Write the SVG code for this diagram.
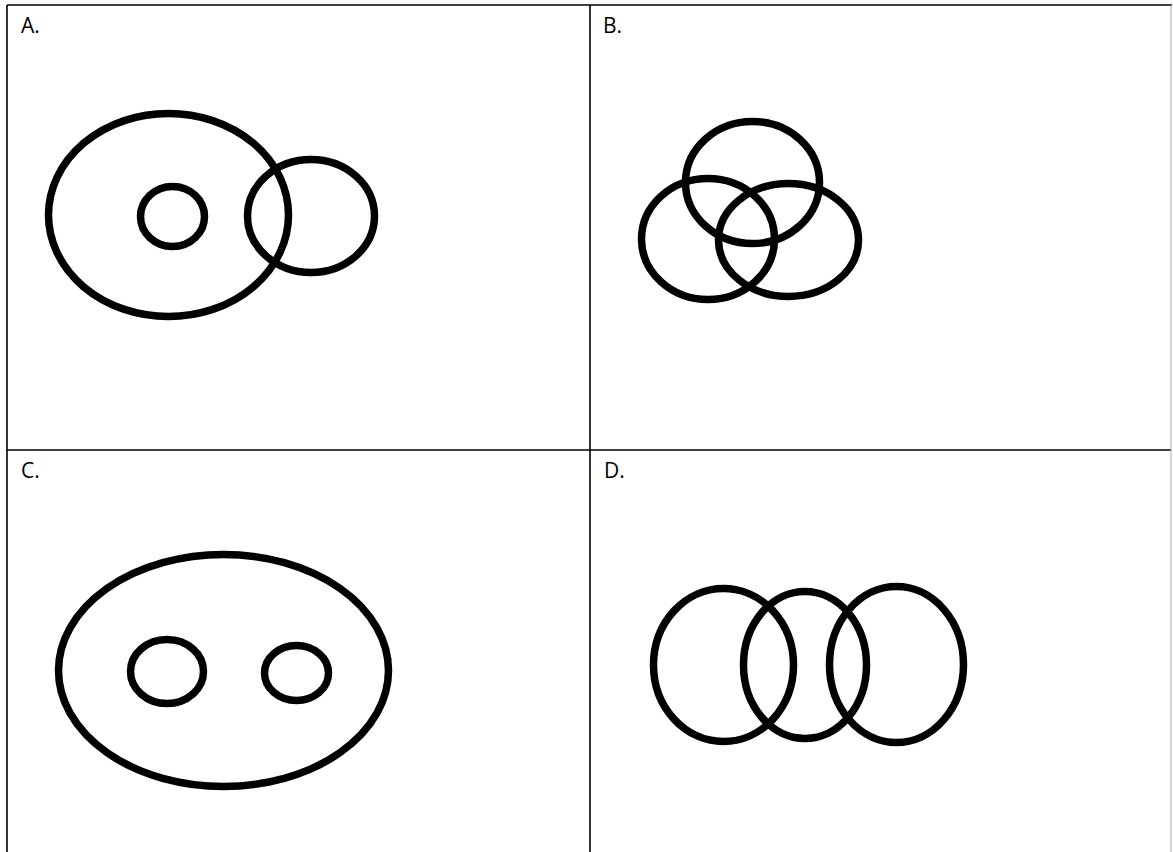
<svg xmlns="http://www.w3.org/2000/svg" width="1173" height="852" viewBox="0 0 1173 852">
<style>
.grid{stroke:#000;stroke-width:1.6;fill:none}
.gridlight{stroke:#aaa;stroke-width:1;fill:none}
.shape{fill:none;stroke:#000;stroke-width:7.5}
.lbl{font-family:"Open Sans","Liberation Sans",Arial,sans-serif;font-size:21px;fill:#000}
</style>
<rect width="1173" height="852" fill="#fff"/>
<g id="table">
<line class="grid" x1="7" y1="5" x2="1172" y2="5"/>
<line class="grid" x1="7" y1="5" x2="7" y2="852"/>
<line class="grid" x1="590" y1="5" x2="590" y2="852"/>
<line class="grid" x1="7" y1="450" x2="1171" y2="450"/>
<line class="gridlight" x1="1171" y1="5" x2="1171" y2="852"/>
</g>
<g id="panelA">
<text class="lbl" x="21" y="33">A.</text>
<ellipse class="shape" cx="168.5" cy="215" rx="120" ry="101.5"/>
<ellipse class="shape" cx="172.5" cy="216.5" rx="32" ry="30"/>
<ellipse class="shape" cx="311" cy="216" rx="63.5" ry="56.5"/>
</g>
<g id="panelB">
<text class="lbl" x="603" y="33">B.</text>
<ellipse class="shape" cx="752.5" cy="182.5" rx="67" ry="61"/>
<ellipse class="shape" cx="708" cy="239" rx="66.5" ry="60.5"/>
<ellipse class="shape" cx="788.5" cy="240" rx="70" ry="56.5"/>
</g>
<g id="panelC">
<text class="lbl" x="21" y="478">C.</text>
<ellipse class="shape" cx="223.5" cy="670.5" rx="165" ry="116"/>
<ellipse class="shape" cx="167" cy="671.5" rx="36.5" ry="32"/>
<ellipse class="shape" cx="296.5" cy="673" rx="32" ry="27.5"/>
</g>
<g id="panelD">
<text class="lbl" x="604" y="478">D.</text>
<ellipse class="shape" cx="723.5" cy="665" rx="70" ry="76.5"/>
<ellipse class="shape" cx="805" cy="665" rx="61.5" ry="73.5"/>
<ellipse class="shape" cx="896.5" cy="664.5" rx="67" ry="78"/>
</g>
</svg>
